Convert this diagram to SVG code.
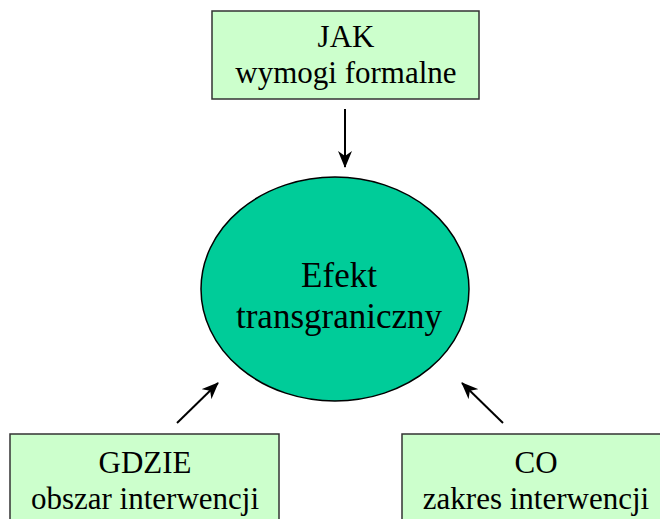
<svg xmlns="http://www.w3.org/2000/svg" width="660" height="519" viewBox="0 0 660 519">
<style>
.box{fill:#ccffcc;stroke:#333333;stroke-width:1.5}
.t{font-family:"Liberation Serif",serif;font-size:31px;fill:#000;text-anchor:middle}
.tb{font-family:"Liberation Serif",serif;font-size:35px;fill:#000;text-anchor:middle}
.c{stroke:#000;stroke-width:2;fill:none;marker-end:url(#ah)}
</style>
<defs>
<marker id="ah" markerWidth="17" markerHeight="14" refX="16" refY="7" orient="auto" markerUnits="userSpaceOnUse">
<path d="M0,0 L17,7 L0,14 L5,7 Z" fill="#000"/>
</marker>
</defs>
<rect width="660" height="519" fill="#fff"/>
<g id="connectors">
<line class="c" x1="345" y1="109" x2="345" y2="167"/>
<line class="c" x1="177" y1="423" x2="218" y2="383"/>
<line class="c" x1="503" y1="423" x2="462" y2="383"/>
</g>
<g id="jak">
<rect class="box" x="212" y="11" width="267" height="88"/>
<text class="t" x="346" y="47">JAK</text>
<text class="t" x="346" y="83">wymogi formalne</text>
</g>
<g id="efekt">
<ellipse cx="335" cy="289" rx="134" ry="112" fill="#00cc99" stroke="#000" stroke-width="1.5"/>
<text class="tb" x="339" y="287">Efekt</text>
<text class="tb" x="339" y="328">transgraniczny</text>
</g>
<g id="gdzie">
<rect class="box" x="10" y="434" width="269" height="100"/>
<text class="t" x="145" y="473">GDZIE</text>
<text class="t" x="145" y="509">obszar interwencji</text>
</g>
<g id="co">
<rect class="box" x="402" y="434" width="280" height="100"/>
<text class="t" x="536" y="473">CO</text>
<text class="t" x="536" y="509">zakres interwencji</text>
</g>
</svg>
